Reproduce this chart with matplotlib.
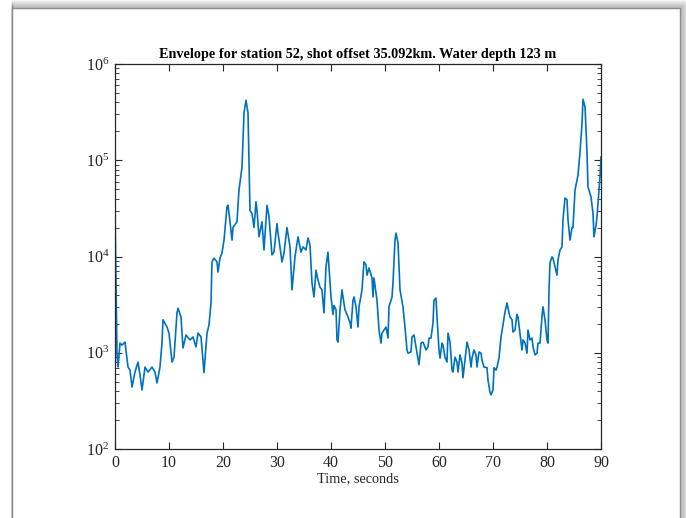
import numpy as np
import matplotlib
matplotlib.use("Agg")
import matplotlib.pyplot as plt
from matplotlib.patches import Rectangle

plt.rcParams['font.family'] = ['Liberation Serif', 'DejaVu Serif']
plt.rcParams['mathtext.fontset'] = 'stix'

# envelope (time in s, amplitude)
time_s = [0.00, 0.37, 0.56, 0.93, 1.30, 1.85, 2.41, 2.78, 3.15, 3.70, 4.26, 4.63, 5.00, 5.56,
          6.11, 6.85, 7.41, 7.78, 8.33, 8.70, 8.89, 9.63, 10.00, 10.56, 10.93, 11.48, 11.67,
          12.22, 12.59, 13.15, 13.89, 14.44, 15.00, 15.37, 15.93, 16.48, 17.04, 17.41, 17.78,
          17.96, 18.33, 18.89, 19.07, 19.44, 19.81, 20.19, 20.74, 20.93, 21.30, 21.67, 21.85,
          22.59, 22.96, 23.52, 23.89, 24.26, 24.63, 25.00, 25.37, 25.74, 26.11, 26.30, 26.67,
          27.22, 27.59, 28.15, 28.52, 29.07, 29.44, 30.00, 30.19, 30.93, 31.30, 31.85, 32.41,
          32.78, 33.33, 33.89, 34.44, 34.81, 35.37, 35.74, 36.11, 36.48, 36.85, 37.22, 37.59,
          37.96, 38.33, 38.70, 39.07, 39.44, 39.63, 40.00, 40.37, 40.56, 40.93, 41.11, 41.30,
          41.67, 42.04, 42.22, 42.59, 42.96, 43.15, 43.52, 43.70, 44.07, 44.26, 44.63, 45.00,
          45.19, 45.74, 46.11, 46.48, 46.67, 47.04, 47.59, 47.78, 47.96, 48.52, 48.89, 49.26,
          49.44, 49.81, 50.19, 50.56, 50.74, 51.30, 51.48, 51.85, 52.04, 52.41, 52.78, 53.33,
          53.70, 54.07, 54.26, 54.81, 55.00, 55.37, 55.93, 56.30, 56.67, 57.04, 57.59, 57.96,
          58.15, 58.52, 58.89, 59.07, 59.44, 59.63, 60.00, 60.19, 60.56, 60.74, 61.11, 61.48,
          61.67, 62.04, 62.41, 62.59, 62.96, 63.33, 63.52, 63.89, 64.26, 64.44, 64.81, 65.19,
          65.56, 65.93, 66.11, 66.48, 66.85, 67.04, 67.41, 67.78, 67.96, 68.33, 68.89, 69.07,
          69.44, 69.63, 70.00, 70.19, 70.56, 70.74, 71.11, 71.48, 71.85, 72.22, 72.59, 72.78,
          73.15, 73.52, 73.70, 74.07, 74.44, 74.63, 75.00, 75.37, 75.56, 75.93, 76.30, 76.48,
          76.85, 77.22, 77.41, 77.78, 78.15, 78.33, 78.70, 79.07, 79.26, 79.63, 80.00, 80.19,
          80.37, 80.56, 80.93, 81.11, 81.48, 81.85, 82.04, 82.41, 82.78, 82.96, 83.33, 83.70,
          83.89, 84.26, 84.63, 84.81, 85.19, 85.56, 85.74, 86.11, 86.48, 86.67, 87.04, 87.41,
          87.59, 88.15, 88.52, 88.70, 89.07, 89.26, 89.44, 89.63, 89.81, 90.00]

envelope = [3.0e4, 990, 710, 1260, 1200, 1290, 710, 660, 440, 630, 800, 590, 410, 710,
            630, 710, 630, 485, 710, 1260, 2200, 1850, 1600, 800, 900, 2600, 2900,
            2350, 1120, 1530, 1360, 1460, 1150, 1600, 1460, 620, 1600, 1950, 3300,
            8800, 9600, 8800, 6900, 9600, 1.09e4, 1.48e4, 3.3e4, 3.4e4, 2.3e4, 1.48e4, 2.0e4,
            2.3e4, 4.9e4, 8.5e4, 3.1e5, 4.2e5, 3.1e5, 3.0e4, 2.8e4, 2.0e4, 3.7e4, 3.0e4, 1.6e4,
            2.3e4, 1.17e4, 3.4e4, 2.6e4, 1.04e4, 1.11e4, 2.2e4, 1.75e4, 8800, 1.09e4, 2.0e4, 1.26e4,
            4500, 9900, 1.6e4, 1.11e4, 1.26e4, 1.17e4, 1.56e4, 1.32e4, 5300, 3800, 7200, 5700,
            4800, 4500, 2600, 7800, 1.11e4, 7800, 3800, 2500, 3100, 2800, 1360, 1290,
            2800, 4500, 3800, 2800, 2500, 2350, 2050, 1800, 3500, 3800, 3000, 1850,
            3000, 4500, 8800, 8200, 6400, 7600, 6000, 3800, 6000, 3500, 1720, 1260,
            1600, 1720, 1850, 1420, 3000, 3800, 5300, 1.48e4, 1.75e4, 1.38e4, 4500, 3000,
            1850, 1070, 990, 1020, 1460, 1530, 990, 750, 1260, 1290, 1070, 1150,
            1420, 1420, 2050, 3500, 3700, 2350, 1070, 880, 1260, 1200, 900, 800,
            1600, 1290, 660, 630, 900, 800, 630, 950, 780, 550, 840, 1290,
            1070, 710, 880, 1070, 950, 710, 1020, 990, 840, 710, 700, 520,
            390, 365, 410, 700, 660, 710, 880, 1460, 1950, 2650, 3300, 2900,
            2350, 2200, 1640, 1720, 2500, 2350, 1600, 1070, 1360, 1260, 990, 1720,
            1360, 1420, 1150, 950, 990, 1260, 1260, 2350, 3000, 2200, 1360, 1260,
            4500, 8600, 9900, 9600, 7800, 6400, 9200, 1.17e4, 1.26e4, 2.4e4, 4.05e4, 3.9e4,
            2.4e4, 1.48e4, 2.0e4, 2.0e4, 4.9e4, 6.2e4, 7.0e4, 1.2e5, 2.4e5, 4.3e5, 3.6e5, 1.19e5,
            5.3e4, 4.15e4, 2.8e4, 1.6e4, 2.1e4, 2.6e4, 3.6e4, 4.9e4, 6.7e4, 1.08e5]

title_text = "Envelope for station 52, shot offset 35.092km. Water depth 123 m"
x_label = "Time, seconds"

fig = plt.figure(figsize=(6.86, 5.18), dpi=100)
fig.patch.set_facecolor("white")

# page frame with a soft shadow on top and right
W, H = 686.0, 518.0
for k in range(8):
    a = 0.45 * (1 - k / 8.0)
    fig.patches.append(Rectangle((11.5 / W, -0.01), (669 + k) / W, (511 + k) / H + 0.01,
                                 transform=fig.transFigure, facecolor="none",
                                 edgecolor=(0.5, 0.5, 0.5, a), lw=1.0, zorder=-2))
fig.patches.append(Rectangle((12 / W, -0.01), 668 / W, 510 / H + 0.01, transform=fig.transFigure,
                             facecolor="white", edgecolor="#8c8c8c", lw=1.0, zorder=-1))

ax = fig.add_axes([115 / W, 69 / H, 486 / W, 385 / H])
ax.plot(time_s, envelope, color="#0072BD", lw=1.2)
ax.set_yscale("log")
ax.set_xlim(0, 90)
ax.set_ylim(1e2, 1e6)
ax.set_xticks(np.arange(0, 91, 10))
ax.set_yticks([1e2, 1e3, 1e4, 1e5, 1e6])

ax.tick_params(which="both", direction="in", top=True, right=True, colors="#262626",
               labelsize=11.5, pad=4)
ax.tick_params(which="major", length=5, width=0.8)
ax.tick_params(which="minor", length=3, width=0.6)
for s in ax.spines.values():
    s.set_color("#262626")
    s.set_linewidth(0.9)

ax.set_xlabel(x_label, fontsize=10.3, color="#262626", labelpad=1)
ax.set_title(title_text, fontsize=10.3, fontweight="bold", color="black", pad=4)

fig.savefig("out.png", dpi=100)
